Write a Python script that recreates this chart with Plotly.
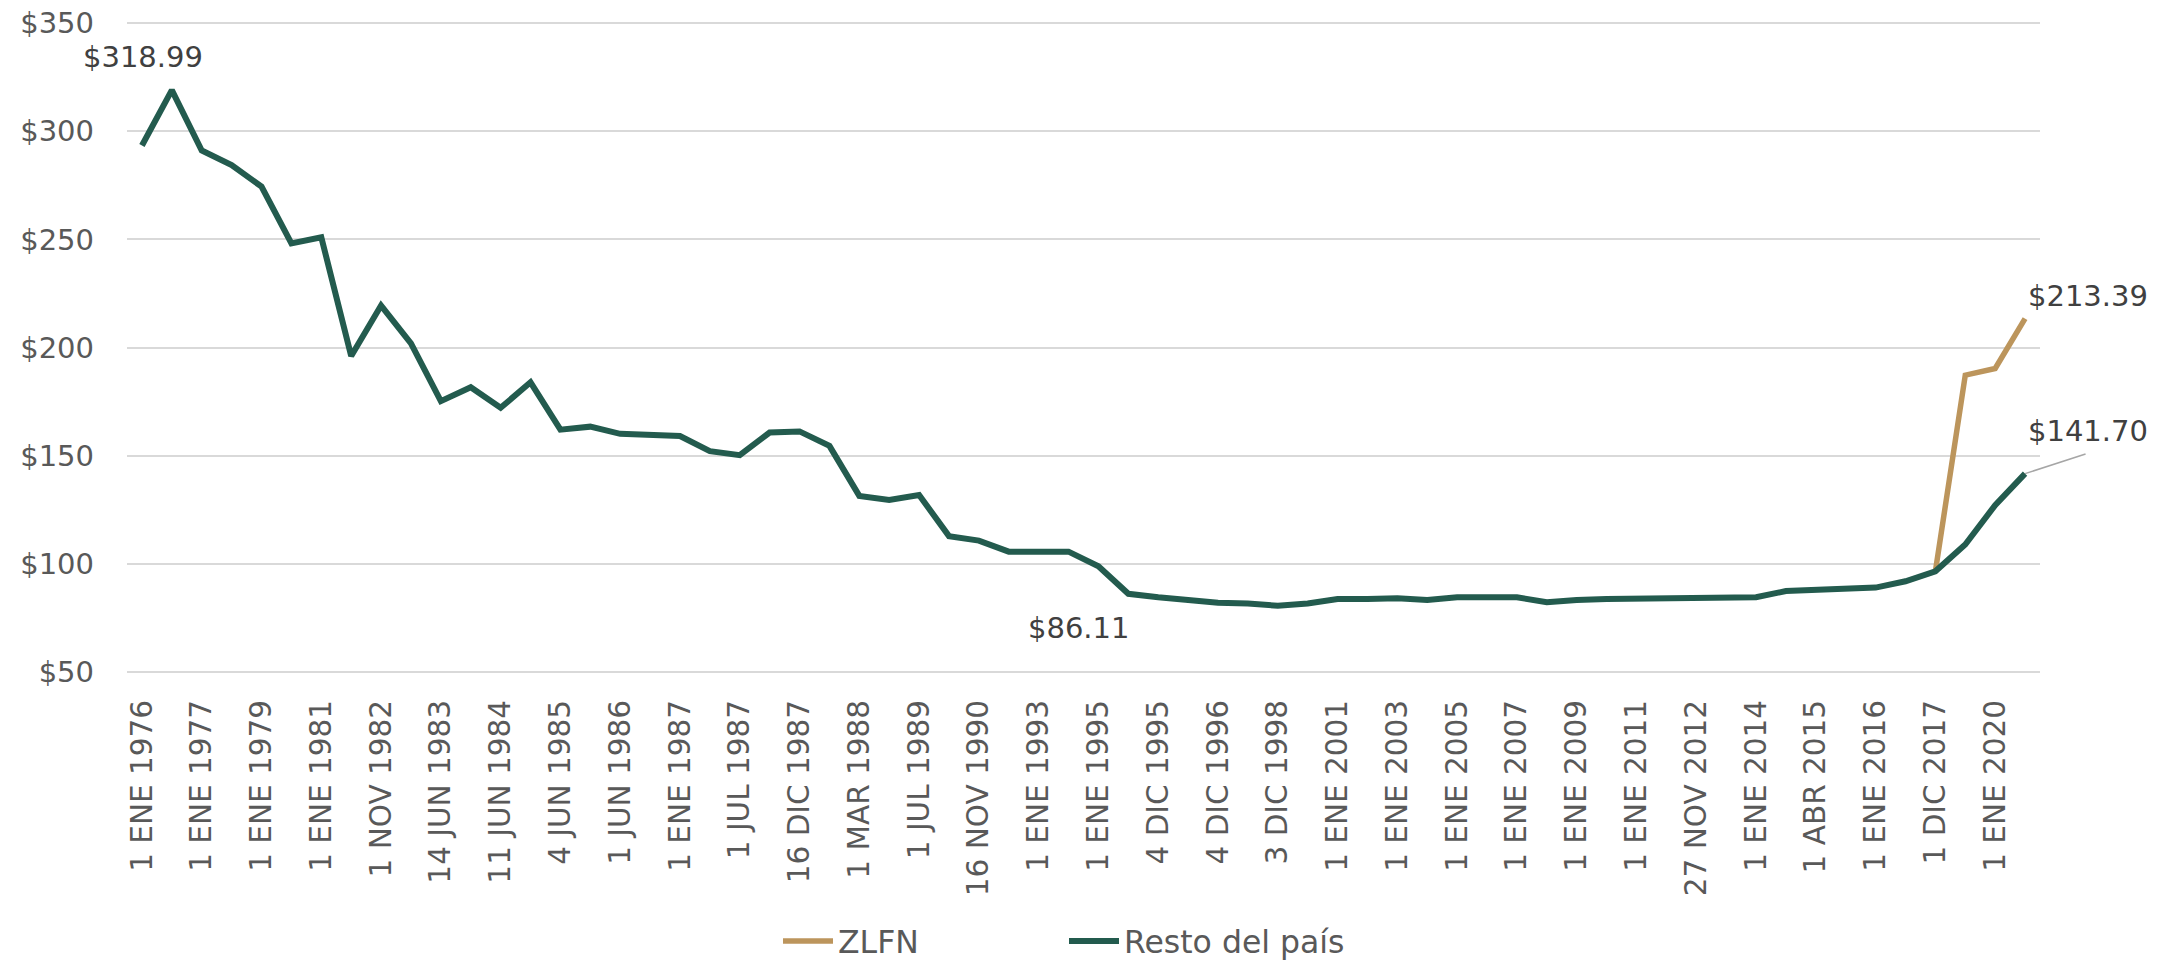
import plotly.graph_objects as go

categories = [
    "1 ENE 1976", "1 OCT 1976", "1 ENE 1977", "1 ENE 1978", "1 ENE 1979", "1 ENE 1980",
    "1 ENE 1981", "1 ENE 1982", "1 NOV 1982", "1 ENE 1983", "14 JUN 1983", "1 ENE 1984",
    "11 JUN 1984", "1 ENE 1985", "4 JUN 1985", "1 ENE 1986", "1 JUN 1986", "22 OCT 1986",
    "1 ENE 1987", "1 ABR 1987", "1 JUL 1987", "1 OCT 1987", "16 DIC 1987", "1 ENE 1988",
    "1 MAR 1988", "1 ENE 1989", "1 JUL 1989", "4 DIC 1989", "16 NOV 1990", "11 NOV 1991",
    "1 ENE 1993", "1 ENE 1994", "1 ENE 1995", "1 ABR 1995", "4 DIC 1995", "1 ABR 1996",
    "4 DIC 1996", "1 ENE 1998", "3 DIC 1998", "1 ENE 2000", "1 ENE 2001", "1 ENE 2002",
    "1 ENE 2003", "1 ENE 2004", "1 ENE 2005", "1 ENE 2006", "1 ENE 2007", "1 ENE 2008",
    "1 ENE 2009", "1 ENE 2010", "1 ENE 2011", "1 ENE 2012", "27 NOV 2012", "1 ENE 2013",
    "1 ENE 2014", "1 ENE 2015", "1 ABR 2015", "1 OCT 2015", "1 ENE 2016", "1 ENE 2017",
    "1 DIC 2017", "1 ENE 2019", "1 ENE 2020", "1 ENE 2021",
]

resto = [
    293.4, 318.99, 291.1, 284.3, 274.4, 248.1, 251.0, 196.1, 219.4, 201.9,
    175.2, 181.6, 172.1, 183.9, 162.0, 163.4, 160.1, 159.9, 159.1, 152.1,
    150.2, 160.7, 161.2, 154.5, 131.4, 129.5, 131.8, 112.8, 110.7, 105.6,
    105.6, 105.6, 98.8, 86.11, 84.5, 83.1, 82.0, 81.6, 80.6, 81.6,
    83.7, 83.7, 84.1, 83.3, 84.5, 84.5, 84.5, 82.2, 83.3, 83.7,
    83.9, 84.3, 84.5, 84.5, 84.5, 87.4, 88.0, 88.4, 89.0, 91.9,
    96.5, 108.9, 127.1, 141.70,
]

zlfn = [None] * 60 + [96.5, 187.2, 190.3, 213.39]

tick_labels = categories[::2]
y_ticks = [50, 100, 150, 200, 250, 300, 350]
y_tick_text = ["$" + str(v) for v in y_ticks]

GREEN = "#235B4E"
GOLD = "#BC955C"
FONT = "DejaVu Sans"
TICK_COLOR = "#595959"
LABEL_COLOR = "#404040"

fig = go.Figure()
fig.add_trace(go.Scatter(x=categories, y=zlfn, name="ZLFN", mode="lines",
                         line=dict(color=GOLD, width=5.5), connectgaps=False))
fig.add_trace(go.Scatter(x=categories, y=resto, name="Resto del país", mode="lines",
                         line=dict(color=GREEN, width=6)))

ann_font = dict(family=FONT, size=29, color=LABEL_COLOR)
fig.add_annotation(x=categories[1], y=resto[1], text="$318.99", showarrow=False,
                   xshift=-29, yshift=33, font=ann_font)
fig.add_annotation(x=categories[33], y=resto[33], text="$86.11", showarrow=False,
                   xshift=-50, yshift=-34, font=ann_font)
fig.add_annotation(x=categories[63], y=zlfn[63], text="$213.39", showarrow=False,
                   xshift=63, yshift=23, font=ann_font)
fig.add_annotation(x=categories[63], y=resto[63], text="$141.70", showarrow=False,
                   xshift=63, yshift=43, font=ann_font)
# leader line for the $141.70 label
fig.add_annotation(x=categories[63], y=resto[63], text="", showarrow=True,
                   arrowhead=0, arrowwidth=1.5, arrowcolor="#A6A6A6",
                   ax=62, ay=-20, standoff=0, startstandoff=0)

fig.update_layout(
    width=2177, height=961,
    margin=dict(l=127, r=137, t=22, b=288),
    paper_bgcolor="white", plot_bgcolor="white",
    font=dict(family=FONT, size=29, color=TICK_COLOR),
    showlegend=True,
    legend=dict(orientation="h", x=(778 - 127) / 1913, xanchor="left",
                yref="container", y=1 - 941 / 961, yanchor="middle",
                font=dict(family=FONT, size=31.5, color=TICK_COLOR),
                itemwidth=50,
                entrywidth=221, entrywidthmode="pixels", traceorder="normal"),
    xaxis=dict(type="category", range=[-0.5, 63.5], tickmode="array",
               tickvals=tick_labels, ticktext=tick_labels, automargin=False,
               tickangle=-90, showgrid=False, zeroline=False, showline=False,
               ticks="", ticklabelstandoff=20,
               tickfont=dict(family=FONT, size=29.5, color=TICK_COLOR)),
    yaxis=dict(range=[49.5, 350.5], tickmode="array", tickvals=y_ticks, ticktext=y_tick_text,
               automargin=False,
               showgrid=True, gridcolor="#D9D9D9", gridwidth=2, zeroline=False,
               showline=False, ticks="", ticklabelstandoff=32,
               tickfont=dict(family=FONT, size=29, color=TICK_COLOR)),
)

fig.write_html("out.html", config={"displayModeBar": False},
               post_script="document.body.style.margin='0';")
